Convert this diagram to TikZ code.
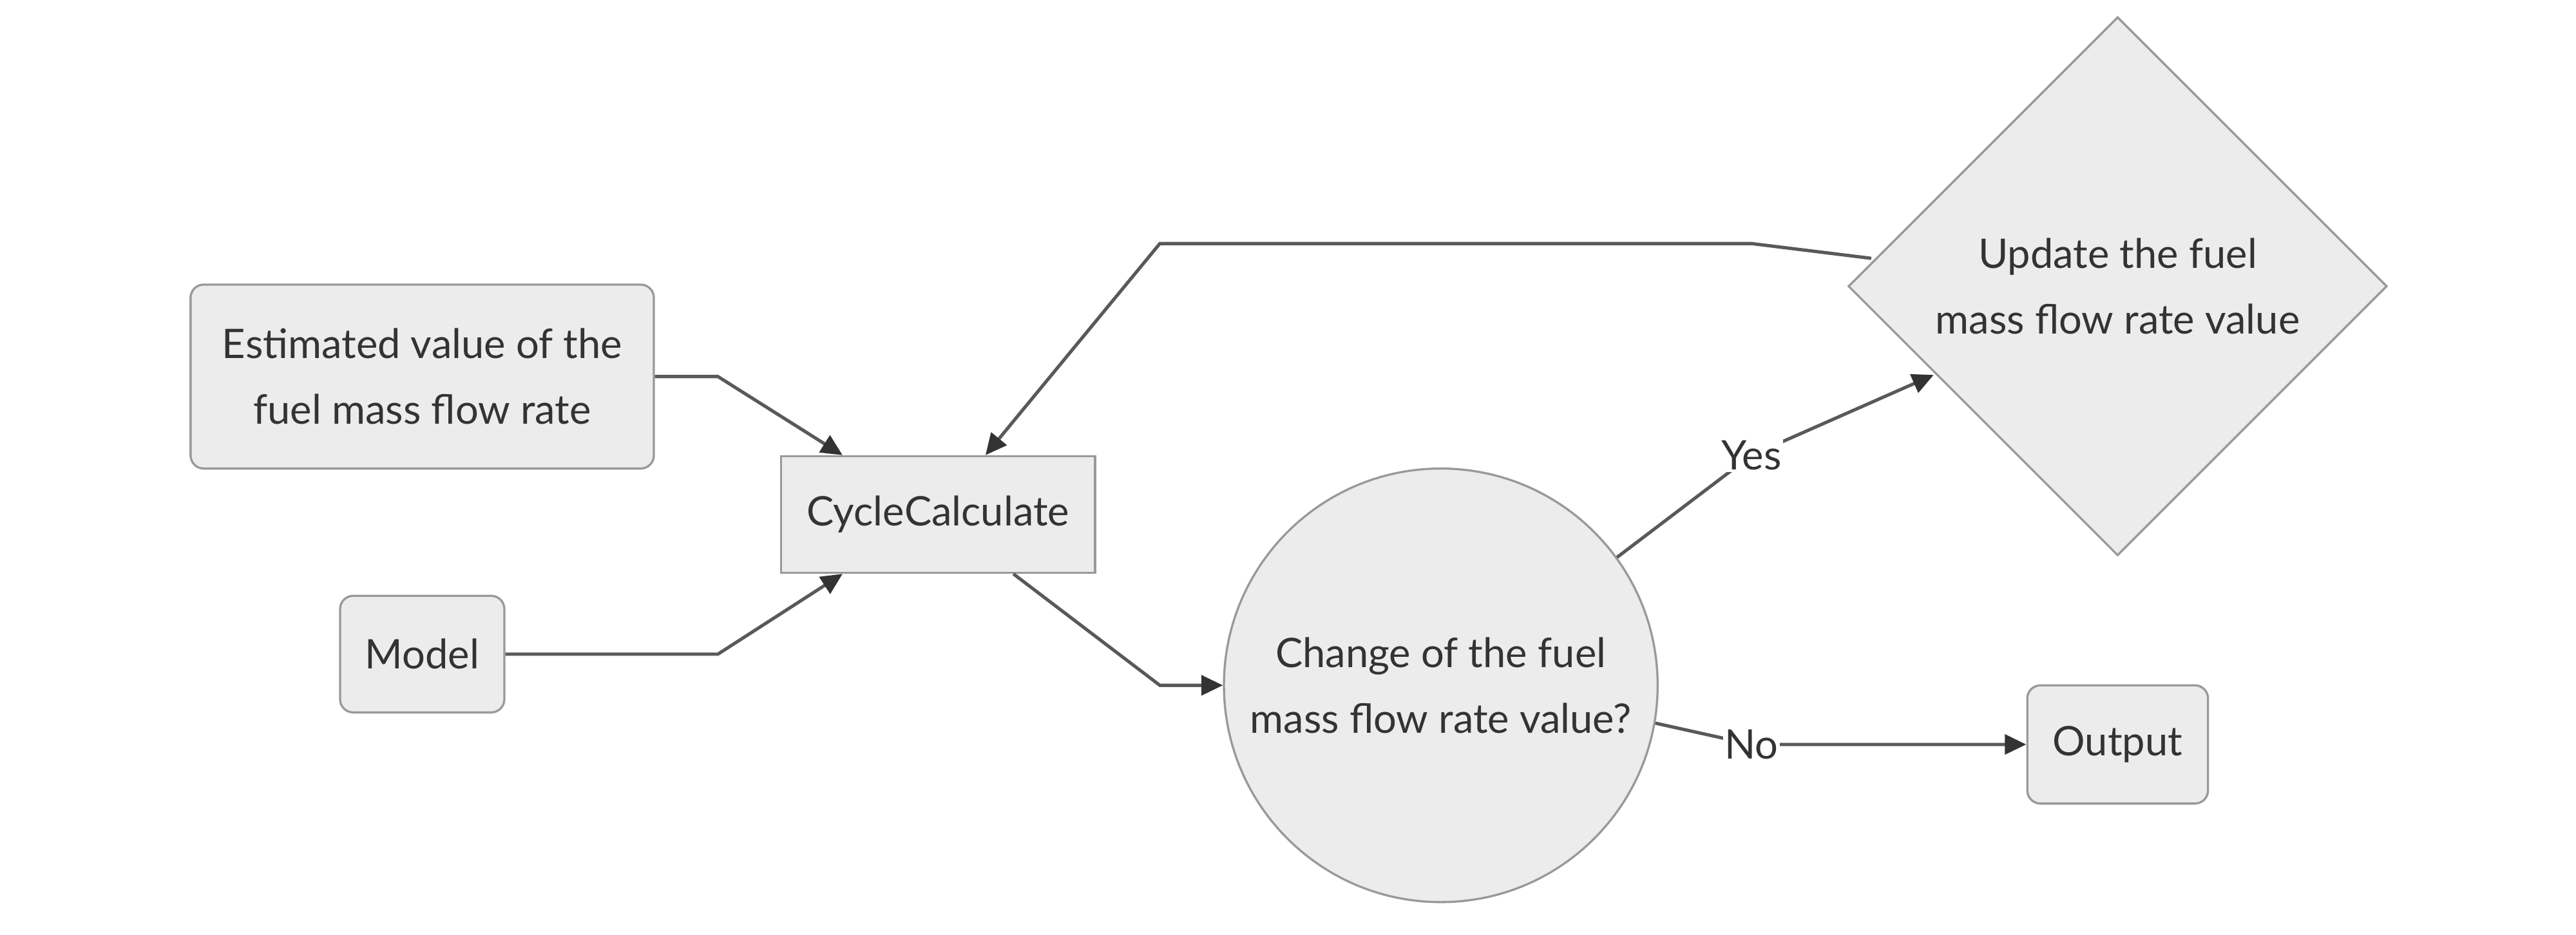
\documentclass[tikz,border=0pt]{standalone}
\usepackage{fontspec}
\setmainfont{Lato}
\usetikzlibrary{shapes.geometric,arrows.meta}

\definecolor{nodefill}{HTML}{ECECEC}
\definecolor{nodeedge}{HTML}{999999}
\definecolor{linegray}{HTML}{595959}
\definecolor{textgray}{HTML}{333333}

\tikzstyle{block} = [rectangle, draw=nodeedge, fill=nodefill, line width=1.3pt,
    text=textgray, align=center, inner sep=0pt]
\tikzstyle{round block} = [block, rounded corners=8pt]
\tikzstyle{decision} = [diamond, aspect=1, draw=nodeedge, fill=nodefill, line width=1.3pt,
    text=textgray, align=center, inner sep=0pt, minimum width=328pt, minimum height=328pt]
\tikzstyle{question} = [circle, draw=nodeedge, fill=nodefill, line width=1.3pt,
    text=textgray, align=center, inner sep=0pt, minimum size=264pt]
\tikzstyle{line} = [draw, line width=2pt, color=linegray, -{Triangle[length=13pt,width=12pt,color=textgray]}]
\tikzstyle{lbl} = [fill=white, text=textgray, inner sep=1pt]

\begin{document}
\begin{tikzpicture}[x=1pt, y=1pt, font=\fontsize{24.8}{40}\selectfont]
	\useasboundingbox (0,0) rectangle (1568,569.3);
	% Nodes
	\node [round block, minimum width=282pt, minimum height=112pt] (Estimated) at (257,340) {Estimated value of the\\fuel mass flow rate};
	\node [round block, minimum width=100pt, minimum height=71pt] (Model) at (257,171) {Model};
	\node [block, minimum width=191pt, minimum height=71pt] (CycleCalculate) at (571,256) {CycleCalculate};
	\node [question] (Change) at (877,152) {Change of the fuel\\mass flow rate value?};
	\node [decision] (Update) at (1289,395) {Update the fuel\\mass flow rate value};
	\node [round block, minimum width=110pt, minimum height=72pt] (Output) at (1289,116) {Output};

	% Arrows
	\path [line] (Estimated.east) -- (437,340) -- ([xshift=38pt]CycleCalculate.north west);
	\path [line] (Model.east) -- (437,171) -- ([xshift=38pt]CycleCalculate.south west);
	\path [line] ([xshift=142pt]CycleCalculate.south west) -- (706,152) -- (Change.west);
	\path [line] (Change.36) -- (1066,292) node [lbl] {Yes} -- (1177,341);
	\path [line] (Change.-10) -- (1066,116) node [lbl] {No} -- (Output.west);
	\path [line] (1139,412) -- (1066,421) -- (706,421) -- ([xshift=125pt]CycleCalculate.north west);

\end{tikzpicture}
\end{document}
